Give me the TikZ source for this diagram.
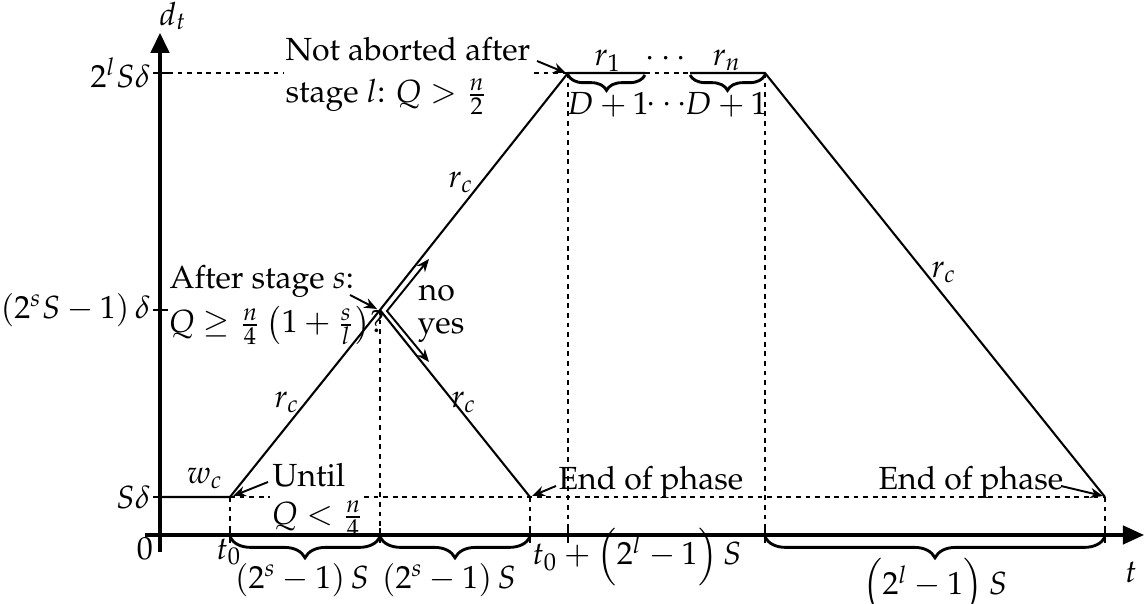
\documentclass[tikz,border=0pt]{standalone}
\usepackage[T1]{fontenc}
\usepackage{mathpazo}
\usetikzlibrary{arrows.meta,decorations.pathreplacing}
\begin{document}
\begin{tikzpicture}[x=0.3125pt,y=-0.3125pt,
  axis/.style={line width=0.95pt},
  curve/.style={line width=0.65pt},
  guide/.style={line width=0.6pt,dash pattern=on 1.5pt off 1.5pt},
  tick/.style={line width=0.7pt},
  ann/.style={line width=0.6pt,-{Stealth[length=4pt,width=3.2pt]}},
  brc/.style={decorate,decoration={brace,mirror,amplitude=#1},line width=0.9pt},
  lbl/.style={inner sep=0pt}]
\useasboundingbox (0,0) rectangle (1145,604);
% key points
\coordinate (W) at (160,497);
\coordinate (A) at (230,497);
\coordinate (X) at (380,310);
\coordinate (E1) at (530,497);
\coordinate (T1) at (568,73);
\coordinate (P1) at (645,73);
\coordinate (P2) at (690,73);
\coordinate (T2) at (765,73);
\coordinate (E2) at (1105,497);
% axes
\draw[axis,-{Triangle[length=6.2pt,width=5.8pt]}] (160,552) -- (160,33);
\draw[axis,-{Triangle[length=6.6pt,width=5.8pt]}] (145,535) -- (1144,535);
% y ticks and labels
\foreach \yy in {73,310,497} \draw[tick] (153,\yy) -- (168,\yy);
\node[lbl,anchor=east] (yl) at (151,73) {$2^{l}S\delta$};
\node[lbl,anchor=east] (ys) at (151,310) {$(2^{s}S-1)\,\delta$};
\node[lbl,anchor=east] (y1) at (151,497) {$S\delta$};
\node[lbl] (zero) at (145,549) {$0$};
\node[lbl] (dt) at (173,16) {$d_t$};
\node[lbl] (tt) at (1131,572) {$t$};
% x ticks
\foreach \xx in {230,380,530,568,765,1105} \draw[tick] (\xx,528) -- (\xx,543);
% guides
\draw[guide] (168,73) -- (284,73);
\draw[guide] (534,73) -- (T1);
\draw[guide] (A) -- (270,497);
\draw[guide] (364,497) -- (E2);
\draw[guide] (P1) -- (P2);
\draw[guide] (A) -- (230,535);
\draw[guide] (X) -- (380,535);
\draw[guide] (E1) -- (530,535);
\draw[guide] (T1) -- (568,535);
\draw[guide] (T2) -- (765,535);
\draw[guide] (E2) -- (1105,535);
% curve
\draw[curve] (W) -- (A) -- (X) -- (T1) -- (P1);
\draw[curve] (P2) -- (T2) -- (E2);
\draw[curve] (X) -- (E1);
% curve labels
\node[lbl] (wc) at (205,478) {$w_c$};
\node[lbl] (rc1) at (287,402) {$r_c$};
\node[lbl] (rc2) at (461,182) {$r_c$};
\node[lbl] (rc3) at (464,402) {$r_c$};
\node[lbl] (rc4) at (944,272) {$r_c$};
\node[lbl,anchor=base] (r1) at (608,66) {$r_1$};
\node[lbl] (rd) at (666,59) {$\cdots$};
\node[lbl,anchor=base] (rn) at (727,66) {$r_n$};
% top braces
\draw[brc=4.8pt] (568,75) -- (645,75);
\draw[brc=4.8pt] (690,75) -- (765,75);
\node[lbl,anchor=base] (d1) at (608,115) {$D+1$};
\node[lbl] (dd) at (667,105) {$\cdots$};
\node[lbl,anchor=base] (d2) at (726,115) {$D+1$};
% bottom braces
\draw[brc=6.5pt] (230,537) -- (380,537);
\draw[brc=6.5pt] (380,537) -- (530,537);
\draw[brc=6.5pt] (765,537) -- (1105,537);
\node[lbl] (t0) at (229,552) {$t_0$};
\node[lbl] (b1) at (302,580) {$(2^{s}-1)\,S$};
\node[lbl] (b2) at (449,580) {$(2^{s}-1)\,S$};
\node[lbl] (tl) at (637,557) {$t_0+\left(2^{l}-1\right)S$};
\node[lbl] (b3) at (935,587) {$\left(2^{l}-1\right)S$};
% annotations
\node[lbl,anchor=base west] (na1) at (285,61) {Not aborted after};
\node[lbl,anchor=base west] (na2) at (285,103) {stage $l$: $Q>\frac{n}{2}$};
\coordinate (naT) at (537,61);
\draw[ann] (naT) -- (566,73);
\node[lbl,anchor=base west] (as1) at (169,289) {After stage $s$:};
\node[lbl,anchor=base west] (as2) at (168,333) {$Q\geq\frac{n}{4}\left(1+\frac{s}{l}\right)$?};
\coordinate (asT) at (350,295);
\draw[ann] (asT) -- (377,309);
\coordinate (V) at (387,311);
\coordinate (NO) at (429,259);
\coordinate (YES) at (429,362);
\draw[line width=0.6pt,{Stealth[length=4pt,width=3.2pt]}-{Stealth[length=4pt,width=3.2pt]}] (NO) -- (V) -- (YES);
\node[lbl,anchor=base west] (no) at (418,301) {no};
\node[lbl,anchor=base west] (yes) at (417,334) {yes};
\node[lbl,anchor=base west] (un1) at (272,487) {Until};
\node[lbl,anchor=base west] (un2) at (271,525) {$Q<\frac{n}{4}$};
\coordinate (unT) at (268,482);
\draw[ann] (unT) -- (233,496);
\node[lbl,anchor=base west] (ep1) at (558,490) {End of phase};
\coordinate (epT1) at (556,486);
\draw[ann] (epT1) -- (532,496);
\node[lbl,anchor=base west] (ep2) at (878,490) {End of phase};
\coordinate (epT2) at (1061,486);
\draw[ann] (epT2) -- (1103,496);
\end{tikzpicture}
\end{document}
